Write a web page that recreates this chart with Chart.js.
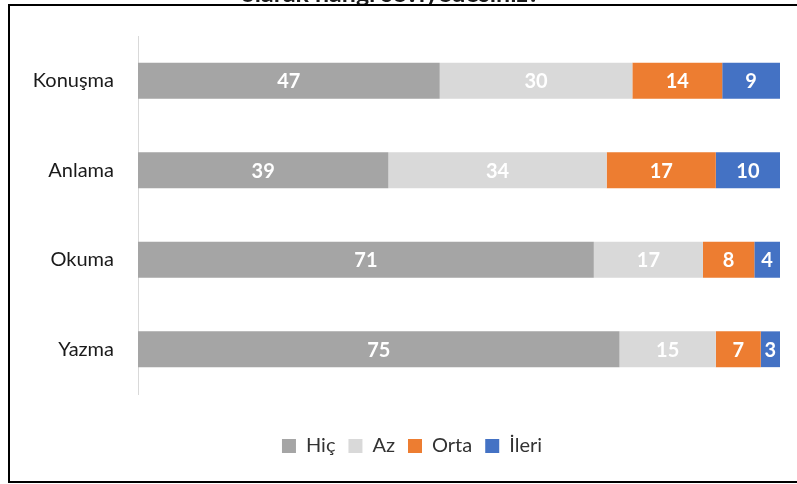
<!DOCTYPE html>
<html>
<head>
<meta charset="utf-8">
<script src="https://cdn.jsdelivr.net/npm/chart.js@4.4.0/dist/chart.umd.min.js"></script>
<style>
  html, body { margin: 0; padding: 0; background: #fff; }
  #wrap { position: relative; width: 797px; height: 484px; }
</style>
</head>
<body>
<div id="wrap"><canvas id="chart" width="797" height="484"></canvas></div>
<script>
// Veriler
const categories = ['Konuşma', 'Anlama', 'Okuma', 'Yazma'];
const seriesNames = ['Hiç', 'Az', 'Orta', 'İleri'];
const hic = [47, 39, 71, 75];
const az = [30, 34, 17, 15];
const orta = [14, 17, 8, 7];
const ileri = [9, 10, 4, 3];
const colors = ['#A5A5A5', '#D9D9D9', '#ED7D31', '#4472C4'];
const titleText = 'olarak hangi seviyedesiniz?';

const FONT = 'Lato, "Open Sans", sans-serif';

// Çerçeve ve kesilmiş başlık
const framePlugin = {
    id: 'frame',
    afterLayout(chart) {
        // lejantı biraz sağa kaydır (orijinaldeki gibi)
        if (chart.legend) chart.legend.left += 36;
    },
    afterDraw(chart) {
        const ctx = chart.ctx;
        ctx.save();
        ctx.fillStyle = '#1a1a1a';
        ctx.font = 'bold 25px ' + FONT;
        ctx.textAlign = 'center';
        ctx.textBaseline = 'alphabetic';
        ctx.fillText(titleText, 390, 2);
        ctx.strokeStyle = '#000';
        ctx.lineWidth = 2;
        ctx.beginPath();
        ctx.moveTo(810, 5);
        ctx.lineTo(9, 5);
        ctx.lineTo(9, 482);
        ctx.lineTo(810, 482);
        ctx.stroke();
        ctx.restore();
    }
};

// Çubukların üzerindeki değerler
const valueLabels = {
    id: 'valueLabels',
    afterDatasetsDraw(chart) {
        const ctx = chart.ctx;
        ctx.save();
        ctx.font = 'bold 20px ' + FONT;
        ctx.fillStyle = '#fff';
        ctx.textAlign = 'center';
        ctx.textBaseline = 'middle';
        chart.data.datasets.forEach((ds, i) => {
            chart.getDatasetMeta(i).data.forEach((bar, j) => {
                const p = bar.getProps(['x', 'y', 'base'], true);
                ctx.fillText(ds.data[j], (p.x + p.base) / 2, p.y + 1);
            });
        });
        ctx.restore();
    }
};

const seriesData = [hic, az, orta, ileri];

new Chart(document.getElementById('chart'), {
    type: 'bar',
    data: {
        labels: categories,
        datasets: seriesNames.map((name, i) => ({
            label: name,
            data: seriesData[i],
            backgroundColor: colors[i],
            borderWidth: 0,
            categoryPercentage: 1,
            barPercentage: 0.4
        }))
    },
    options: {
        indexAxis: 'y',
        responsive: false,
        animation: false,
        layout: { padding: { top: 29, left: 8, right: 17, bottom: 18 } },
        scales: {
            x: {
                stacked: true,
                min: 0,
                max: 100,
                grid: { display: false },
                border: { display: false },
                ticks: { display: false },
                afterFit: s => { s.height = 29; }
            },
            y: {
                stacked: true,
                grid: { display: false, drawTicks: false },
                border: { display: true, color: '#D9D9D9', width: 1 },
                ticks: {
                    color: '#1a1a1a',
                    padding: 24,
                    font: { family: FONT, size: 20 }
                },
                afterFit: s => { s.width = 130; }
            }
        },
        plugins: {
            legend: {
                position: 'bottom',
                labels: {
                    boxWidth: 14,
                    boxHeight: 14,
                    padding: 13,
                    color: '#333',
                    font: { family: FONT, size: 20 }
                }
            },
            tooltip: { enabled: false },
            title: { display: false }
        }
    },
    plugins: [valueLabels, framePlugin]
});
</script>
</body>
</html>
